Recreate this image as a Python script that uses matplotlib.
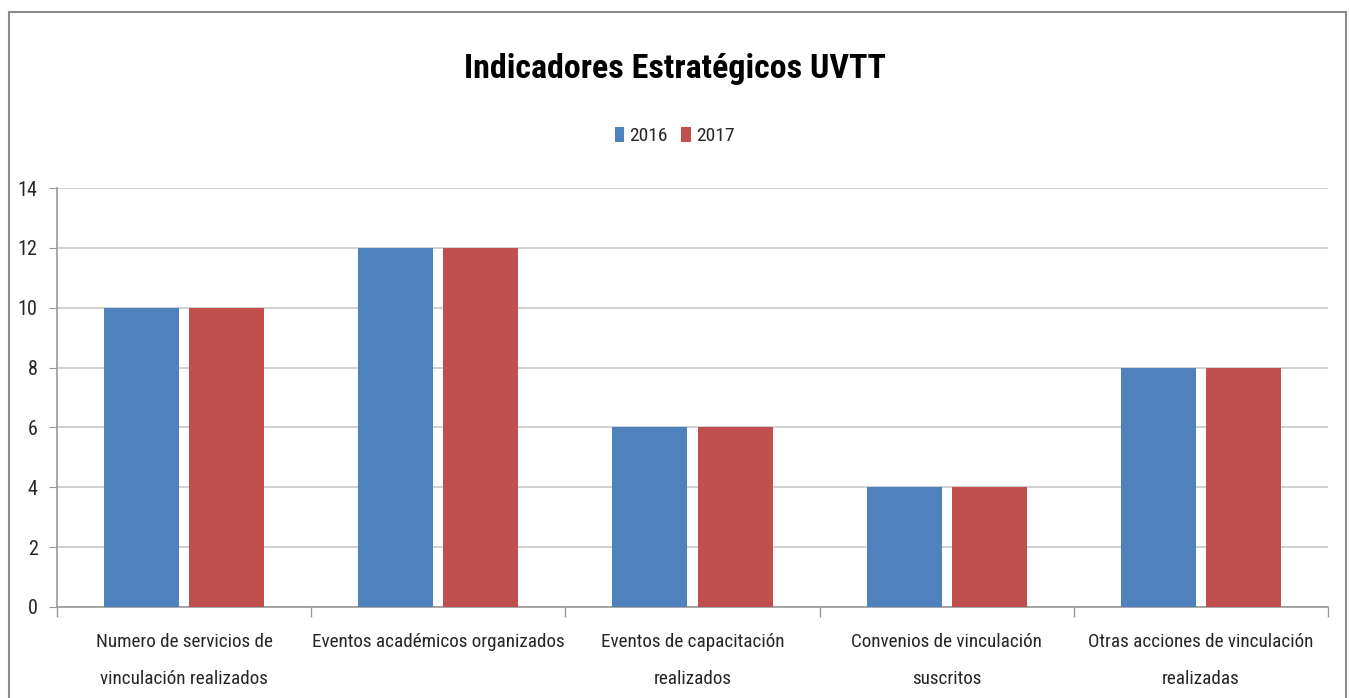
import matplotlib.pyplot as plt
import numpy as np
from matplotlib.patches import Rectangle

plt.rcParams['font.family'] = ['Roboto Condensed', 'Lato', 'DejaVu Sans']

categorias = ["Numero de servicios de\nvinculación realizados",
              "Eventos académicos organizados",
              "Eventos de capacitación\nrealizados",
              "Convenios de vinculación\nsuscritos",
              "Otras acciones de vinculación\nrealizadas"]
valores_2016 = [10, 12, 6, 4, 8]
valores_2017 = [10, 12, 6, 4, 8]
anios = ["2016", "2017"]
colores = ["#4f81bd", "#c0504d"]

fig = plt.figure(figsize=(13.49, 6.98), dpi=100)
# marco del grafico
fig.patches.append(Rectangle((9 / 1349, -0.01), 1337 / 1349, 1 - 12 / 698 + 0.01,
                             transform=fig.transFigure, fill=False,
                             edgecolor="#8c8c8c", linewidth=1.5))

ax = fig.add_axes([57 / 1349, 1 - 607 / 698, 1271 / 1349, 419 / 698])
x = np.arange(len(categorias))
ancho = 0.295
sep = 0.04
ax.bar(x - (ancho + sep) / 2, valores_2016, ancho, color=colores[0], label=anios[0], zorder=3)
ax.bar(x + (ancho + sep) / 2, valores_2017, ancho, color=colores[1], label=anios[1], zorder=3)

ax.set_xlim(-0.5, len(categorias) - 0.5)
ax.set_ylim(0, 14)
ax.set_yticks(range(0, 15, 2))
ax.yaxis.grid(True, color="#c8c8c8", linewidth=1.2, zorder=0)
ax.set_xticks(x)
ax.set_xticklabels(categorias, fontsize=13.8, color="#262626", linespacing=2.3)
ax.set_xticks(np.arange(-0.5, len(categorias)), minor=True)
ax.tick_params(axis="x", which="major", length=0, pad=19)
ax.tick_params(axis="x", which="minor", length=7, color="#999999", width=1)
ax.tick_params(axis="y", labelsize=14.5, labelcolor="#262626", length=6, color="#999999", pad=8)
for lado in ["top", "right"]:
    ax.spines[lado].set_visible(False)
ax.spines["left"].set_color("#999999")
ax.spines["bottom"].set_color("#999999")
ax.spines["left"].set_linewidth(1.2)
ax.spines["bottom"].set_linewidth(1.2)

fig.text(0.5, 1 - 78 / 698, "Indicadores Estratégicos UVTT", ha="center", va="baseline",
         fontsize=24.5, fontweight="bold", color="black")
fig.legend(loc="center", bbox_to_anchor=(0.5, 1 - 136 / 698), ncol=2, frameon=False,
           fontsize=14, handlelength=0.5, handleheight=0.8, handletextpad=0.25,
           columnspacing=0.7, labelcolor="#262626")

fig.savefig("out.png", dpi=100)
